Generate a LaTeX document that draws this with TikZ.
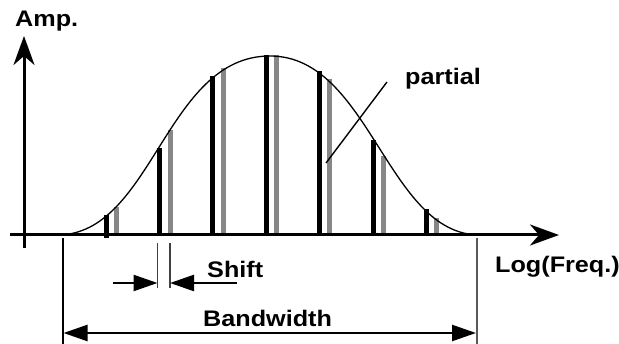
\documentclass[tikz,border=0pt]{standalone}
\usepackage{fontspec}
\newfontfamily\labfont{Liberation Sans}[FakeStretch=1.12]
\usetikzlibrary{arrows.meta}
\begin{document}
\begin{tikzpicture}[x=1pt,y=-1pt,
  lab/.style={inner sep=0pt,anchor=base west,font=\labfont\bfseries\fontsize{22.5}{26}\selectfont},
  axis/.style={line width=3pt,-{Stealth[length=29pt,width=21pt,inset=9pt]}},
  blackbar/.style={line width=5pt,black},
  graybar/.style={line width=5pt,black!47},
  dim/.style={line width=2.4pt,-{Triangle[length=24pt,width=16pt]}},
  ext/.style={line width=1.3pt}]
\useasboundingbox (0,0) rectangle (619,344);
% bars
\foreach \x/\t in {159/148,212/76,266/55,319/71,373/140,426/209}
  \draw[blackbar] (\x,235) -- (\x,\t);
\draw[blackbar] (106,238) -- (106,215);
\foreach \x/\t in {116/207,170/130,223/68,276/55,329/79,383/156,436/218}
  \draw[graybar] (\x,235) -- (\x,\t);
% axes
\coordinate (xs) at (10,235);
\coordinate (xe) at (559,235);
\coordinate (ys) at (24,248);
\coordinate (ye) at (24,36);
\draw[axis] (xs) -- (xe);
\draw[axis] (ys) -- (ye);
% envelope
\draw[line width=1.3pt] (57,235) .. controls (153,235) and (165,56) .. (270,56)
  .. controls (370,56) and (387,235) .. (480,235);
% labels
\node[lab] (amp) at (15,27) {Amp.};
\node[lab] (part) at (405,85) {partial};
\node[lab] (logf) at (495,273) {Log(Freq.)};
\node[lab] (shift) at (207,278) {Shift};
\node[lab] (bw) at (203,327) {Bandwidth};
% partial leader
\coordinate (pa) at (326,163);
\coordinate (pb) at (387,82);
\draw[line width=1.4pt] (pa) -- (pb);
% shift dimension
\coordinate (s1t) at (157.5,243); \coordinate (s1b) at (157.5,288);
\coordinate (s2t) at (170,243); \coordinate (s2b) at (170,288);
\draw[ext,black!75] (s1t) -- (s1b);
\draw[ext,black!75] (s2t) -- (s2b);
\coordinate (sl) at (113,283); \coordinate (sr) at (237,283);
\draw[dim] (sl) -- (s1t |- sl);
\draw[dim] (sr) -- (s2t |- sr);
% bandwidth dimension
\coordinate (b1t) at (63,238); \coordinate (b1b) at (63,344);
\coordinate (b2t) at (477,238); \coordinate (b2b) at (477,344);
\draw[ext] (b1t) -- (b1b);
\draw[line width=1.6pt,black!65] (b2t) -- (b2b);
\draw[line width=2.4pt,{Triangle[length=24pt,width=16pt]}-{Triangle[length=24pt,width=16pt]}] (63.5,333) -- (476,333);
\end{tikzpicture}
\end{document}
